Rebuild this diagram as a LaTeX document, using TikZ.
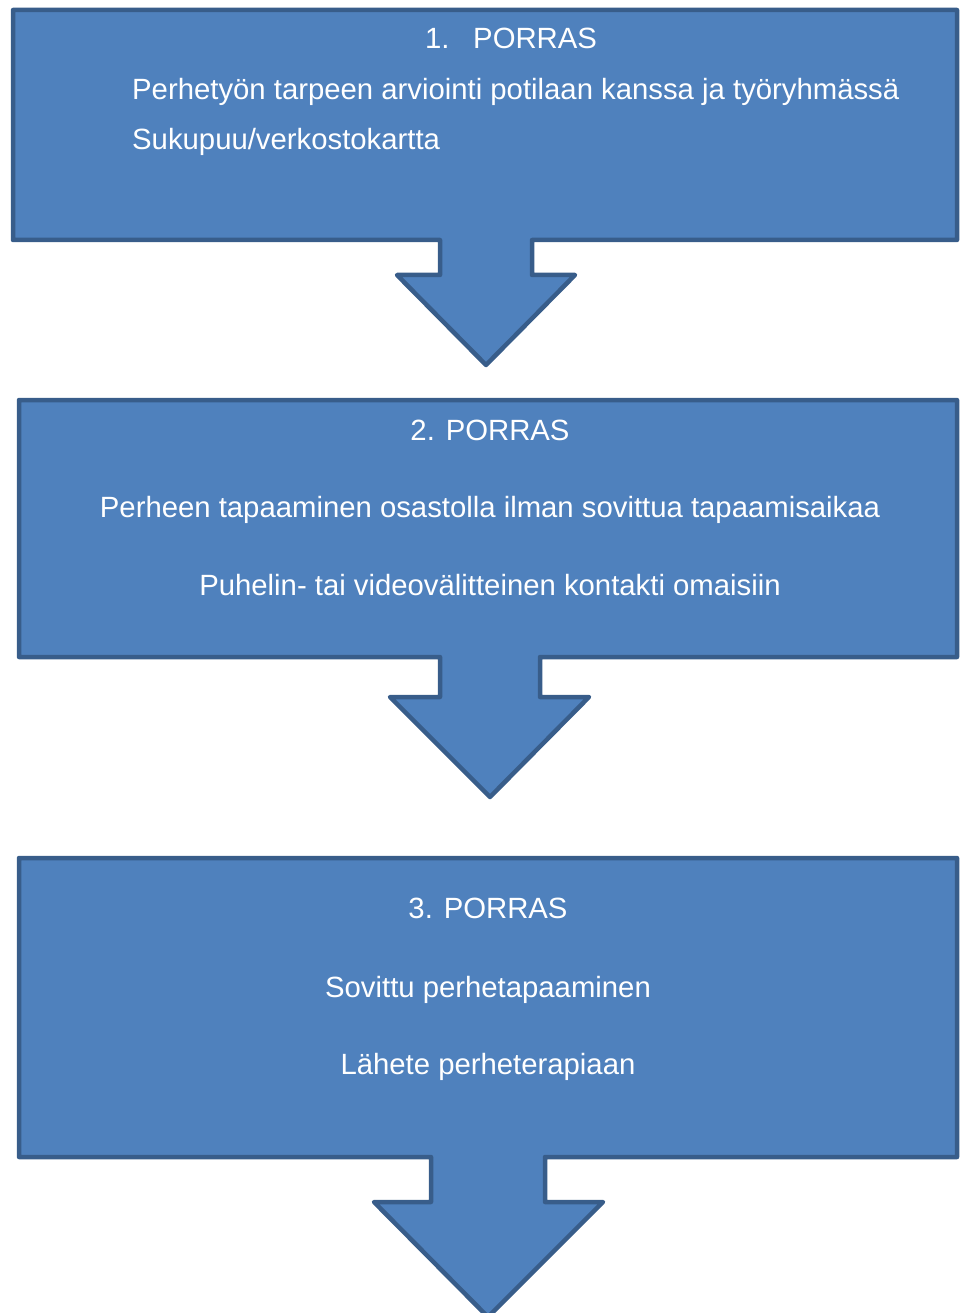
\documentclass[tikz,border=0pt]{standalone}
\usepackage{fontspec}
\setmainfont{Liberation Sans}
\definecolor{boxfill}{HTML}{4F81BD}
\definecolor{boxline}{HTML}{385D8A}
\tikzset{
  stepshape/.style={fill=boxfill, draw=boxline, line width=4.5pt, line join=round},
  txt/.style={text=white, font=\fontsize{29.3}{34}\selectfont, inner sep=0pt, anchor=base},
  txtl/.style={txt, anchor=base west}
}
\begin{document}
\begin{tikzpicture}[x=1pt,y=-1pt]
\useasboundingbox (0,0) rectangle (960,1313);
% step 1
\draw[stepshape] (13,10) -- (957,10) -- (957,240) -- (532,240) -- (532,275) -- (575,275)
  -- (486,365) -- (397,275) -- (440,275) -- (440,240) -- (13,240) -- cycle;
% step 2
\draw[stepshape] (19,400) -- (957,400) -- (957,657) -- (540,657) -- (540,697) -- (589,697)
  -- (490,797) -- (390,697) -- (440,697) -- (440,657) -- (19,657) -- cycle;
% step 3
\draw[stepshape] (19,858) -- (957,858) -- (957,1157) -- (545,1157) -- (545,1202) -- (603,1202)
  -- (488,1317) -- (374,1202) -- (431,1202) -- (431,1157) -- (19,1157) -- cycle;
% texts
\node[txtl] (n1) at (425,49) {1.};
\node[txtl] (t1) at (473,49) {PORRAS};
\node[txtl] (a1) at (132,100) {Perhetyön tarpeen arviointi potilaan kanssa ja työryhmässä};
\node[txtl] (b1) at (132,150) {Sukupuu/verkostokartta};
\node[txt] (t2) at (490,440) {2. PORRAS};
\node[txt] (a2) at (490,517) {Perheen tapaaminen osastolla ilman sovittua tapaamisaikaa};
\node[txt] (b2) at (490,595) {Puhelin- tai videovälitteinen kontakti omaisiin};
\node[txt] (t3) at (488,918) {3. PORRAS};
\node[txt] (a3) at (488,997) {Sovittu perhetapaaminen};
\node[txt] (b3) at (488,1074) {Lähete perheterapiaan};
\end{tikzpicture}
\end{document}
